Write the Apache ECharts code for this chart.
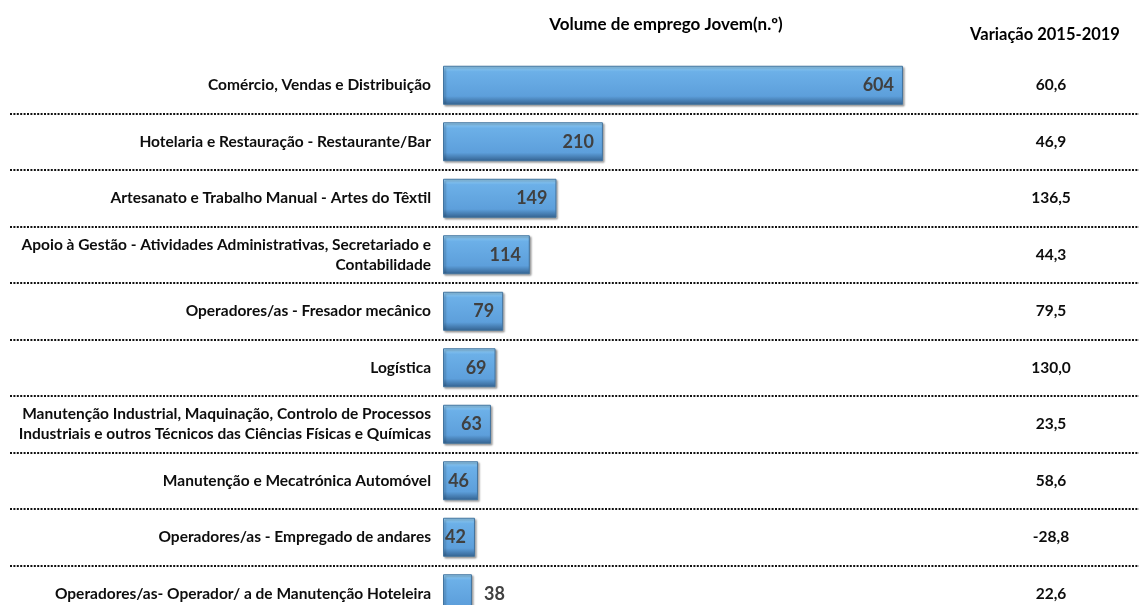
<!DOCTYPE html>
<html>
<head>
<meta charset="utf-8">
<script src="https://cdn.jsdelivr.net/npm/echarts@6/dist/echarts.min.js"></script>
<style>
html, body { margin: 0; padding: 0; background: #fff; }
#main { width: 1139px; height: 605px; }
</style>
</head>
<body>
<div id="main"></div>
<script>
// dados
var categorias = [
    'Comércio, Vendas e Distribuição',
    'Hotelaria e Restauração - Restaurante/Bar',
    'Artesanato e Trabalho Manual - Artes do Têxtil',
    'Apoio à Gestão - Atividades Administrativas, Secretariado e\nContabilidade',
    'Operadores/as - Fresador mecânico',
    'Logística',
    'Manutenção Industrial, Maquinação, Controlo de Processos\nIndustriais e outros Técnicos das Ciências Físicas e Químicas',
    'Manutenção e Mecatrónica Automóvel',
    'Operadores/as - Empregado de andares',
    'Operadores/as- Operador/ a de Manutenção Hoteleira'
];
var volumeEmprego = [604, 210, 149, 114, 79, 69, 63, 46, 42, 38];
var variacao = ['60,6', '46,9', '136,5', '44,3', '79,5', '130,0', '23,5', '58,6', '-28,8', '22,6'];

var fonte = 'Lato, "Open Sans", sans-serif';

var echartsWarp = document.getElementById('main');
var myChart = echarts.init(echartsWarp);

// cor das barras com efeito de relevo
var barColor = new echarts.graphic.LinearGradient(0, 0, 0, 1, [
    {offset: 0, color: '#a0dafc'},
    {offset: 0.15, color: '#6cb0e8'},
    {offset: 0.78, color: '#5d9fdb'},
    {offset: 1, color: '#33618f'}
]);

var dadosBarras = volumeEmprego.map(function (v) {
    var item = {value: v};
    if (v < 40) {
        item.label = {position: 'right', distance: 12};
    }
    return item;
});

var option = {
    backgroundColor: '#fff',
    animation: false,
    title: [
        {
            text: 'Volume de emprego Jovem(n.º)',
            left: 661, top: 11, textAlign: 'center',
            textStyle: {fontFamily: fonte, fontSize: 17, fontWeight: 'bold', color: '#000'}
        },
        {
            text: 'Variação 2015-2019',
            left: 1040, top: 21, textAlign: 'center',
            textStyle: {fontFamily: fonte, fontSize: 16.5, fontWeight: 'bold', color: '#000'}
        }
    ],
    grid: [
        // barras
        {left: 443, right: 0, top: 57, height: 565, outerBoundsMode: 'none', containLabel: false},
        // linhas pontilhadas
        {left: 10, right: 0, top: 57, height: 565, outerBoundsMode: 'none', containLabel: false}
    ],
    xAxis: [
        {
            type: 'value', gridIndex: 0,
            min: 0, max: 913.9,
            axisLine: {show: false}, axisTick: {show: false},
            axisLabel: {show: false}, splitLine: {show: false}
        },
        {
            type: 'value', gridIndex: 1,
            min: 0, max: 1,
            axisLine: {show: false}, axisTick: {show: false},
            axisLabel: {show: false}, splitLine: {show: false}
        }
    ],
    yAxis: [
        {
            type: 'category', gridIndex: 0,
            inverse: true,
            data: categorias,
            axisLine: {show: false},
            axisTick: {show: false},
            axisLabel: {
                margin: 12,
                fontFamily: fonte,
                fontSize: 15.5,
                fontWeight: 'bold',
                color: '#0d0d0d',
                lineHeight: 20,
                align: 'right'
            },
            splitLine: {show: false}
        },
        {
            type: 'category', gridIndex: 0,
            inverse: true,
            position: 'right',
            offset: -88,
            data: variacao,
            axisLine: {show: false, onZero: false},
            axisTick: {show: false},
            axisLabel: {
                margin: 0,
                align: 'center',
                fontFamily: fonte,
                fontSize: 15.5,
                fontWeight: 'bold',
                color: '#0d0d0d'
            },
            splitLine: {show: false}
        },
        {
            type: 'category', gridIndex: 1,
            inverse: true,
            data: categorias,
            axisLine: {show: false},
            axisTick: {show: false},
            axisLabel: {show: false},
            splitLine: {
                show: true,
                interval: function (index) { return index !== 0; },
                lineStyle: {color: '#111', width: 2, type: [2, 1.4]}
            }
        }
    ],
    series: [
        {
            type: 'bar',
            xAxisIndex: 0,
            yAxisIndex: 0,
            data: dadosBarras,
            barWidth: 39,
            itemStyle: {
                color: barColor,
                borderColor: '#43749f',
                borderWidth: 1,
                shadowColor: 'rgba(0,0,0,0.35)',
                shadowBlur: 2,
                shadowOffsetX: 1.5,
                shadowOffsetY: 1.5
            },
            label: {
                show: true,
                position: 'insideRight',
                distance: 9,
                fontFamily: fonte,
                fontSize: 18,
                fontWeight: 'bold',
                color: '#404040'
            }
        }
    ]
};

myChart.setOption(option);
window.onresize = function () {
    myChart.resize();
};
</script>
</body>
</html>
